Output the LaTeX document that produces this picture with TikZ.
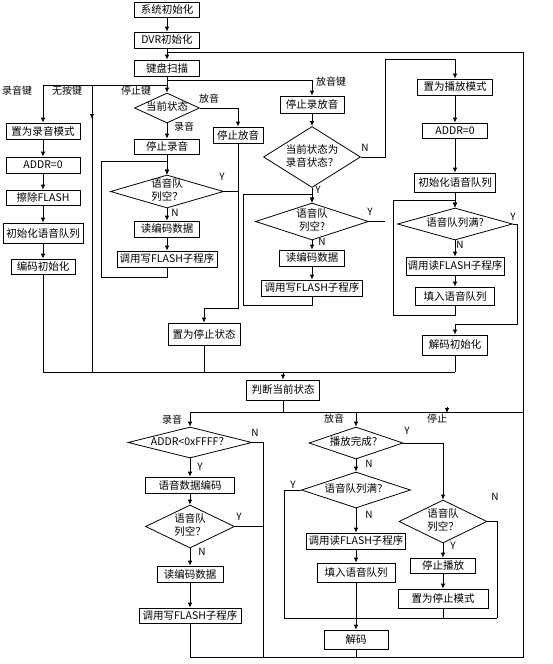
\documentclass[tikz,border=0pt]{standalone}
\usepackage{fontspec}
\setmainfont{Noto Sans CJK SC}
\usetikzlibrary{arrows.meta, shapes.geometric}

\newcommand{\dtext}[1]{\makebox[0pt]{\begin{tabular}{@{}c@{}}#1\end{tabular}}}

\begin{document}
\begin{tikzpicture}[x=1pt, y=-1pt, font=\fontsize{10.5}{13}\selectfont, line width=0.8pt,
	box/.style={draw, rectangle, inner sep=0pt, minimum height=16},
	dec/.style={draw, diamond, inner sep=0pt, aspect=1},
	lbl/.style={inner sep=0pt, font=\fontsize{10}{11}\selectfont},
	arr/.style={-{Latex[length=5pt,width=4.5pt]}}]

	\useasboundingbox (0,0) rectangle (553,664);

	% start and key scan
	\node[box, minimum width=65, minimum height=15] (init) at (167,9.5) {系统初始化};
	\node[box, minimum width=65] (dvr) at (167,40) {DVR初始化};
	\node[box, minimum width=65] (scan) at (167,68) {键盘扫描};

	% record key
	\node[box, minimum width=74] (recmode) at (43,131) {置为录音模式};
	\node[box, minimum width=74] (addra) at (43,165) {ADDR=0};
	\node[box, minimum width=74, minimum height=15] (erase) at (43,197.5) {擦除FLASH};
	\node[box, minimum width=80, minimum height=20] (qinita) at (43,233) {初始化语音队列};
	\node[box, minimum width=64, minimum height=15] (encinit) at (43,266.5) {编码初始化};

	% stop key
	\node[dec, minimum width=65, minimum height=30] (statea) at (167,108) {\dtext{当前状态}};
	\node[box, minimum width=50] (stopplay) at (238,135) {停止放音};
	\node[box, minimum width=65, minimum height=15] (stoprec) at (167,146.5) {停止录音};
	\node[dec, minimum width=113, minimum height=33] (emptya) at (167,191.5) {\dtext{语音队\\列空？}};
	\node[box, minimum width=65] (reada) at (167,229) {读编码数据};
	\node[box, minimum width=100] (writea) at (167,259) {调用写FLASH子程序};
	\node[box, minimum width=72, minimum height=22] (setstop) at (204,334) {置为停止状态};

	% play key
	\node[box, minimum width=64, minimum height=17] (stopall) at (312,104.5) {停止录放音};
	\node[dec, minimum width=97, minimum height=61] (stateb) at (312,157) {\dtext{当前状态为\\录音状态？}};
	\node[dec, minimum width=113, minimum height=37] (emptyb) at (312,221.5) {\dtext{语音队\\列空?}};
	\node[box, minimum width=65] (readb) at (312,258) {读编码数据};
	\node[box, minimum width=101] (writeb) at (312,288) {调用写FLASH子程序};

	\node[box, minimum width=75] (playmode) at (455,87) {置为播放模式};
	\node[box, minimum width=65, minimum height=15] (addrb) at (455,130.5) {ADDR=0};
	\node[box, minimum width=81, minimum height=19] (qinitb) at (455,182.5) {初始化语音队列};
	\node[dec, minimum width=115, minimum height=32] (fulla) at (455,224) {\dtext{语音队列满?}};
	\node[box, minimum width=98, minimum height=18] (readfla) at (455,266) {调用读FLASH子程序};
	\node[box, minimum width=79, minimum height=18] (filla) at (455,296) {填入语音队列};
	\node[box, minimum width=65, minimum height=20] (decinit) at (455,345) {解码初始化};

	\node[box, minimum width=73, minimum height=20] (judge) at (283,390) {判断当前状态};

	% recording
	\node[dec, minimum width=124, minimum height=31] (addrchk) at (190,442.5) {\dtext{ADDR<0xFFFF？}};
	\node[box, minimum width=89] (encode) at (190,485) {语音数据编码};
	\node[dec, minimum width=89, minimum height=43] (emptyc) at (190,526.5) {\dtext{语音队\\列空？}};
	\node[box, minimum width=66] (readc) at (190,574) {读编码数据};
	\node[box, minimum width=102, minimum height=15] (writec) at (190,615.5) {调用写FLASH子程序};

	% playing
	\node[dec, minimum width=94, minimum height=32] (done) at (356,443) {\dtext{播放完成？}};
	\node[dec, minimum width=109, minimum height=36] (fullb) at (356,490) {\dtext{语音队列满？}};
	\node[box, minimum width=99] (readflb) at (356,541) {调用读FLASH子程序};
	\node[box, minimum width=78, minimum height=19] (fillb) at (356,572.5) {填入语音队列};
	\node[box, minimum width=64, minimum height=19] (decode) at (356,639.5) {解码};

	\node[dec, minimum width=88, minimum height=43] (emptyd) at (443,521.5) {\dtext{语音队\\列空？}};
	\node[box, minimum width=65, minimum height=15] (stopplayb) at (443,565.5) {停止播放};
	\node[box, minimum width=90, minimum height=19] (setstopb) at (443,598.5) {置为停止模式};

	% corners
	\coordinate (ret) at (523,52);
	\coordinate (retb) at (523,657);
	\coordinate (keyl) at (167,85);
	\coordinate (keyr) at (167,80);
	\coordinate (nokey) at (92,85);
	\coordinate (merge) at (43,372);
	\coordinate (sp) at (238,308);
	\coordinate (loopa) at (101,161);
	\coordinate (loopab) at (101,277);
	\coordinate (loopb) at (243,194);
	\coordinate (loopbb) at (243,305);
	\coordinate (nb) at (385,59);
	\coordinate (loopc) at (393,200);
	\coordinate (loopcb) at (393,315);
	\coordinate (yc) at (517,324);
	\coordinate (fork) at (523,412);
	\coordinate (stopk) at (447,407);
	\coordinate (nx) at (263,657);
	\coordinate (jn) at (284,618);
	\coordinate (jnr) at (497,618);

	% top part
	\draw[arr] (init) -- (dvr);
	\draw[arr] (dvr) -- (scan);
	\draw[arr] (scan) -- (statea);
	\draw (scan.north |- ret) -- (ret) -- (retb) -- (writec.south |- retb);
	\draw[arr] (keyl) -| (recmode.north);
	\draw[arr] (keyr) -| (stopall.north);
	\draw (nokey) -- (nokey |- merge);
	\draw[arr] (nokey) -- ++(0,34);

	\draw[arr] (recmode) -- (addra);
	\draw[arr] (addra) -- (erase);
	\draw[arr] (erase) -- (qinita);
	\draw[arr] (qinita) -- (encinit);
	\draw (encinit) |- (decinit.south |- merge);
	\draw (decinit) -- (decinit.south |- merge);
	\draw (setstop) -- (setstop.south |- merge);
	\draw[arr] (judge.north |- merge) -- (judge);

	\draw[arr] (statea.east) -| (stopplay.north);
	\draw[arr] (statea) -- (stoprec);
	\draw[arr] (stoprec) -- (emptya);
	\draw[arr] (writea.south) |- (loopab) -- (loopa) -| (emptya.north);
	\draw[arr] (emptya) -- (reada);
	\draw[arr] (reada) -- (writea);
	\draw (emptya.east) -- (emptya.east -| sp);
	\draw[arr] (stopplay.south) -- (sp) -| (setstop.north);

	\draw[arr] (stopall) -- (stateb);
	\draw[arr] (stateb) -- (emptyb);
	\draw[arr] (writeb.south) |- (loopbb) -- (loopb) -| (emptyb.north);
	\draw[arr] (stateb.east) -| (nb) -| (playmode.north);
	\draw (emptyb.east) -- (emptyb.east -| nb);
	\draw[arr] (emptyb) -- (readb);
	\draw[arr] (readb) -- (writeb);

	\draw[arr] (playmode) -- (addrb);
	\draw[arr] (addrb) -- (qinitb);
	\draw[arr] (qinitb) -- (fulla);
	\draw[arr] (filla.south) |- (loopcb) -- (loopc) -| (fulla.north);
	\draw[arr] (fulla) -- (readfla);
	\draw[arr] (readfla) -- (filla);
	\draw[arr] (fulla.east) -| (yc) -| (decinit.north);

	% bottom part
	\draw (judge) -- (judge.south |- fork);
	\draw (addrchk.north |- fork) -- (fork);
	\draw[arr] (addrchk.north |- fork) -- (addrchk);
	\draw[arr] (done.north |- fork) -- (done);
	\draw[arr] (stopk) -- ++(0,6);

	\draw[arr] (addrchk) -- (encode);
	\draw (addrchk.east) -| (nx);
	\draw[arr] (encode) -- (emptyc);
	\draw (emptyc.east) -- (emptyc.east -| nx);
	\draw[arr] (emptyc) -- (readc);
	\draw[arr] (readc) -- (writec);
	\draw (writec) -- (writec.south |- retb);

	\draw[arr] (done) -- (fullb);
	\draw[arr] (done.east) -| (emptyd.north);
	\draw[arr] (fullb) -- (readflb);
	\draw[arr] (readflb) -- (fillb);
	\draw[arr] (fillb) -- (decode);
	\draw (fullb.west) -| (jn) -- (jnr);
	\draw (emptyd.east) -| (jnr);
	\draw (setstopb) -- (setstopb.south |- jn);
	\draw (decode) -- (decode.south |- retb);
	\draw[arr] (emptyd) -- (stopplayb);
	\draw[arr] (stopplayb) -- (setstopb);

	% labels
	\node[lbl] (lreck) at (17,91) {录音键};
	\node[lbl] (lnok) at (67,91) {无按键};
	\node[lbl] (lstopk) at (136,91) {停止键};
	\node[lbl] (lplayk) at (331,82) {放音键};
	\node[lbl] (lplaya) at (209,99) {放音};
	\node[lbl] (lreca) at (184,127) {录音};
	\node[lbl] (lya) at (222,177) {Y};
	\node[lbl] (lna) at (175,213) {N};
	\node[lbl] (lnb) at (365,148) {N};
	\node[lbl] (lyb) at (318,190) {Y};
	\node[lbl] (lyb2) at (370,212) {Y};
	\node[lbl] (lnb2) at (322,242) {N};
	\node[lbl] (lyc) at (513,217) {Y};
	\node[lbl] (lnc) at (460,245) {N};
	\node[lbl] (lrecb) at (172,420) {录音};
	\node[lbl] (lplayb) at (334,419) {放音};
	\node[lbl] (lstopb) at (437,419) {停止};
	\node[lbl] (lnd) at (255,433) {N};
	\node[lbl] (lyd) at (200,467) {Y};
	\node[lbl] (lyd2) at (239,517) {Y};
	\node[lbl] (lnd2) at (202,552) {N};
	\node[lbl] (lye) at (407,431) {Y};
	\node[lbl] (lne) at (369,464) {N};
	\node[lbl] (lye2) at (293,485) {Y};
	\node[lbl] (lne2) at (369,515) {N};
	\node[lbl] (lnf) at (495,497) {N};
	\node[lbl] (lyf) at (453,546) {Y};

\end{tikzpicture}
\end{document}
